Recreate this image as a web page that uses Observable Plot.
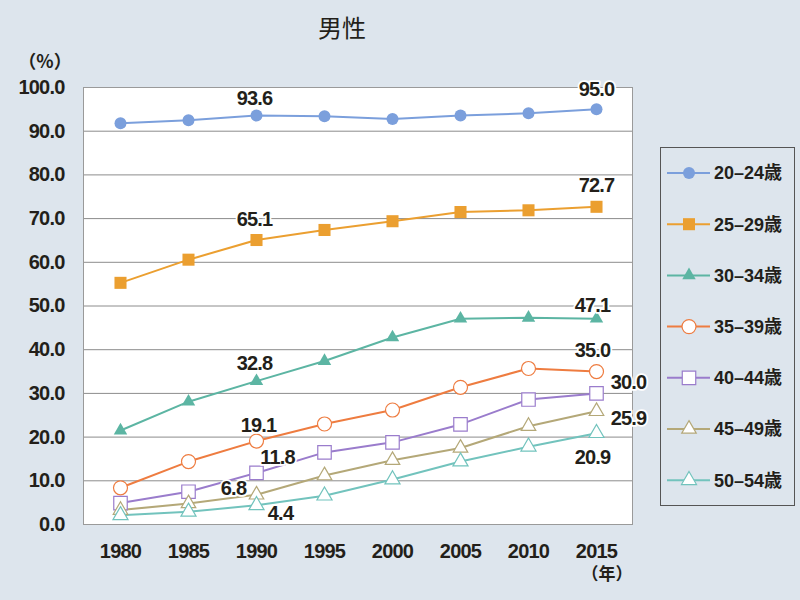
<!DOCTYPE html>
<html><head><meta charset="utf-8">
<script src="https://cdn.jsdelivr.net/npm/d3@7"></script>
<script src="https://cdn.jsdelivr.net/npm/@observablehq/plot@0.6"></script>
<style>
body{margin:0;}
#wrap{position:relative;width:800px;height:600px;background:#dde5ed;overflow:hidden;font-family:"Liberation Sans","Noto Sans CJK JP",sans-serif;color:#231f1a;}
#title{position:absolute;left:282px;width:120px;top:14px;line-height:26px;text-align:center;font-size:24px;font-family:"Noto Sans CJK JP",sans-serif;}
#unitY{position:absolute;left:0px;width:90px;top:50px;line-height:20px;text-align:center;font-size:18px;font-weight:bold;font-family:"Noto Sans CJK JP",sans-serif;}
#unitX{position:absolute;left:562px;width:90px;top:563px;line-height:20px;text-align:center;font-size:17px;font-weight:bold;font-family:"Noto Sans CJK JP",sans-serif;}
#legend{position:absolute;left:660px;top:147px;width:135px;height:359px;box-sizing:border-box;border:1px solid #555;}
#chart svg{position:absolute;left:0;top:0;}
</style></head>
<body>
<div id="wrap">
  <div id="title">男性</div>
  <div id="unitY">（%）</div>
  <div id="unitX">（年）</div>
  <div id="chart"></div>
  <div id="legend"></div>
</div>
<script>
// ---- data ----
const years = [1980, 1985, 1990, 1995, 2000, 2005, 2010, 2015];
const seriesNames = ["20–24歳", "25–29歳", "30–34歳", "35–39歳", "40–44歳", "45–49歳", "50–54歳"];
const v2024 = [91.8, 92.5, 93.6, 93.4, 92.8, 93.6, 94.1, 95.0];
const v2529 = [55.3, 60.6, 65.1, 67.4, 69.4, 71.5, 71.9, 72.7];
const v3034 = [21.5, 28.1, 32.8, 37.4, 42.8, 47.1, 47.3, 47.1];
const v3539 = [8.4, 14.4, 19.1, 23.0, 26.2, 31.4, 35.7, 35.0];
const v4044 = [4.9, 7.5, 11.8, 16.5, 18.8, 22.9, 28.6, 30.0];
const v4549 = [3.3, 4.8, 6.8, 11.2, 14.7, 17.5, 22.5, 25.9];
const v5054 = [2.1, 2.9, 4.4, 6.6, 10.3, 14.4, 17.8, 20.9];
const seriesValues = [v2024, v2529, v3034, v3539, v4044, v4549, v5054];
const yTicks = [0, 10, 20, 30, 40, 50, 60, 70, 80, 90, 100];
// labelled points: [series index, year]
const labelled = [[0,1990],[0,2015],[1,1990],[1,2015],[2,1990],[2,2015],[3,1990],[3,2015],[4,1990],[4,2015],[5,1990],[5,2015],[6,1990],[6,2015]];

// ---- styles ----
const colors = ["#7b9fdc", "#eb9f30", "#5cb5a3", "#ee7c40", "#9a7ccc", "#b4a878", "#72c3bd"];
const symbols = ["circle", "square", "triangle", "circle", "square", "triangle", "triangle"];
const fills = [null, null, null, "white", "white", "white", "white"];
const radii = [6, 6.8, 5, 7, 7.6, 5.4, 5.6];
const labelOffsets = [[-2,-17],[0,-20],[-2,-20],[0,-21],[-2,-18],[-4,-13],[2,-15],[-4,-21],[21,-15],[32,-11],[-23,-6],[32,7],[24,8],[-4,24]];

const rows = seriesValues.flatMap((vals, si) => years.map((yr, i) => ({s: si, year: yr, value: vals[i]})));

const marks = [
  Plot.frame({fill: "white", stroke: null}),
  Plot.ruleY(yTicks.filter(t => t > 0 && t < 100), {stroke: "#8c8c8c", strokeWidth: 1}),
  Plot.frame({stroke: "#9a9a9a"}),
  Plot.axisY({ticks: yTicks, tickFormat: d => d.toFixed(1), tickSize: 0, tickPadding: 19, fontSize: 20, fontWeight: "bold", fill: "#231f1a", label: null}),
  Plot.axisX({tickFormat: d => String(d), tickSize: 0, tickPadding: 19, fontSize: 20, fontWeight: "bold", fill: "#231f1a", label: null})
];
seriesValues.forEach((vals, si) => {
  const d = rows.filter(r => r.s === si);
  marks.push(Plot.line(d, {x: "year", y: "value", stroke: colors[si], strokeWidth: 2}));
});
seriesValues.forEach((vals, si) => {
  const d = rows.filter(r => r.s === si);
  marks.push(Plot.dot(d, {x: "year", y: "value", symbol: symbols[si], r: radii[si],
    fill: fills[si] ?? colors[si], stroke: colors[si], strokeWidth: fills[si] ? 1.2 : 0}));
});
labelled.forEach(([si, yr], k) => {
  const d = rows.filter(r => r.s === si && r.year === yr);
  marks.push(Plot.text(d, {x: "year", y: "value", text: r => r.value.toFixed(1),
    dx: labelOffsets[k][0], dy: labelOffsets[k][1], fontSize: 20, fontWeight: "bold",
    fill: "#231f1a", stroke: "white", strokeWidth: 3.5, strokeLinejoin: "round"}));
});

const chart = Plot.plot({
  width: 650, height: 600,
  marginLeft: 83, marginRight: 18, marginTop: 87, marginBottom: 76,
  x: {type: "point", domain: years, padding: 0.51, axis: null},
  y: {domain: [0, 100], axis: null},
  style: {background: "transparent", fontFamily: '"Liberation Sans", "Noto Sans CJK JP", sans-serif', letterSpacing: "-0.8px", color: "#231f1a"},
  marks
});
document.getElementById("chart").appendChild(chart);

// ---- legend ----
const lg = d3.select("#legend").append("svg").attr("width", 133).attr("height", 357)
  .style("font-family", '"Liberation Sans", "Noto Sans CJK JP", sans-serif');
seriesNames.forEach((name, si) => {
  const y = 25 + si * 51.2;
  const g = lg.append("g").attr("transform", `translate(0,${y})`);
  g.append("line").attr("x1", 6).attr("x2", 49).attr("stroke", colors[si]).attr("stroke-width", 2);
  const sym = {circle: d3.symbolCircle, square: d3.symbolSquare, triangle: d3.symbolTriangle}[symbols[si]];
  g.append("path").attr("transform", "translate(28,0)")
    .attr("d", d3.symbol(sym, radii[si] * radii[si] * Math.PI)())
    .attr("fill", fills[si] ?? colors[si]).attr("stroke", colors[si]).attr("stroke-width", fills[si] ? 1.2 : 0);
  g.append("text").attr("x", 53).attr("dy", "0.35em").attr("font-size", 18).attr("font-weight", "bold")
    .attr("fill", "#231f1a").text(name);
});
</script>
</body></html>
